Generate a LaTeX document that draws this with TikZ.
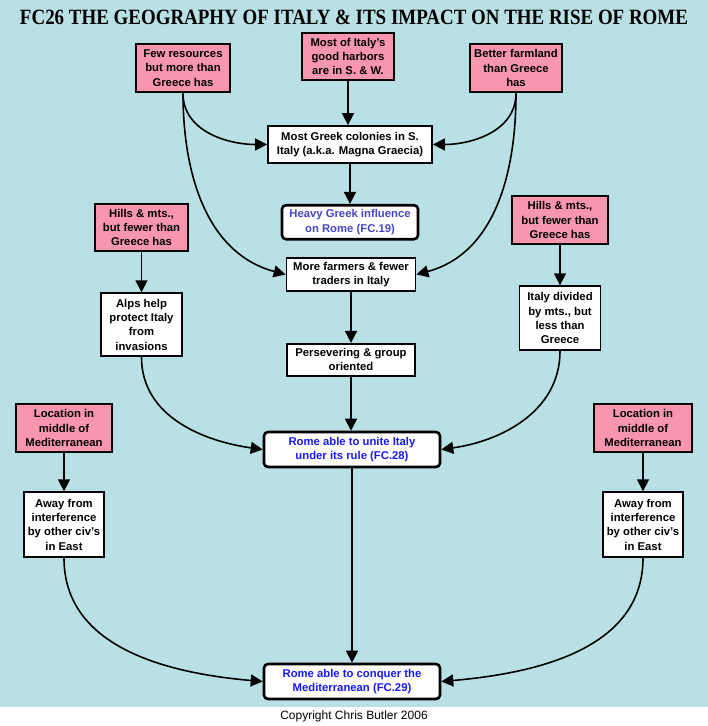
\documentclass[tikz,border=0pt]{standalone}
\usepackage{fontspec}
\setmainfont{Liberation Sans}
\newfontfamily\titlefont{Liberation Serif}
\usepackage{tikz}
\usetikzlibrary{arrows.meta, positioning}

\definecolor{seablue}{RGB}{185,224,228}
\definecolor{pinkfill}{RGB}{248,150,176}
\definecolor{linkblue}{RGB}{25,25,245}
\definecolor{linkpurple}{RGB}{70,70,200}

\tikzset{
  box/.style={draw=black, align=center, inner sep=1pt,
    font=\bfseries\fontsize{11.3}{14.3}\selectfont},
  pinkbox/.style={box, fill=pinkfill, line width=2.6pt},
  plainbox/.style={box, fill=white, line width=1.8pt},
  fcbox/.style={box, fill=white, line width=2.6pt, rounded corners=4pt},
  link/.style={draw, line width=1.6pt, -{Triangle[length=12pt,width=12pt]}},
}

\begin{document}
\begin{tikzpicture}[x=1pt, y=-1pt]
  \useasboundingbox (0,0) rectangle (708,726);
  \fill[seablue] (0,0) rectangle (708,707);

  \node (title) at (354,17)
    {\resizebox{668pt}{14.5pt}{\titlefont\bfseries FC26 THE GEOGRAPHY OF ITALY \& ITS IMPACT ON THE RISE OF ROME}};

  % top row
  \node[pinkbox, minimum width=94pt, minimum height=48pt] (few) at (183,68)
    {Few resources\\but more than\\Greece has};
  \node[pinkbox, minimum width=92pt, minimum height=47pt] (harbors) at (348,56.5)
    {Most of Italy’s\\good harbors\\are in S. \& W.};
  \node[pinkbox, minimum width=92pt, minimum height=48pt] (farmland) at (516,68)
    {Better farmland\\than Greece\\has};

  % centre column
  \node[plainbox, minimum width=164pt, minimum height=37pt] (colonies) at (350,144.5)
    {Most Greek colonies in S.\\Italy (a.k.a. Magna Graecia)};
  \node[fcbox, minimum width=136pt, minimum height=34pt, text=linkpurple,
    below=40pt of colonies] (greek) {Heavy Greek influence\\on Rome (FC.19)};
  \node[plainbox, minimum width=129pt, minimum height=33pt] (farmers) at (351,274.5)
    {More farmers \& fewer\\traders in Italy};
  \node[plainbox, minimum width=128pt, minimum height=32pt,
    below=51pt of farmers] (persevere) {Persevering \& group\\oriented};
  \node[fcbox, minimum width=176pt, minimum height=35pt, text=linkblue] (unite) at (352,449.5)
    {Rome able to unite Italy\\under its rule (FC.28)};
  \node[fcbox, minimum width=176pt, minimum height=35pt, text=linkblue] (conquer) at (352,681.5)
    {Rome able to conquer the\\Mediterranean (FC.29)};

  % mountains
  \node[pinkbox, minimum width=93pt, minimum height=47pt] (hillsL) at (141.5,227.5)
    {Hills \& mts.,\\but fewer than\\Greece has};
  \node[plainbox, minimum width=81pt, minimum height=63pt,
    below=40pt of hillsL] (alps) {Alps help\\protect Italy\\from\\invasions};
  \node[pinkbox, minimum width=96pt, minimum height=48pt] (hillsR) at (560,220)
    {Hills \& mts.,\\but fewer than\\Greece has};
  \node[plainbox, minimum width=81pt, minimum height=64pt,
    below=40pt of hillsR] (divided) {Italy divided\\by mts., but\\less than\\Greece};

  % location
  \node[pinkbox, minimum width=96pt, minimum height=48pt] (locL) at (64,428)
    {Location in\\middle of\\Mediterranean};
  \node[plainbox, minimum width=80pt, minimum height=65pt,
    below=38pt of locL] (awayL) {Away from\\interference\\by other civ’s\\in East};
  \node[pinkbox, minimum width=98pt, minimum height=48pt] (locR) at (643,428)
    {Location in\\middle of\\Mediterranean};
  \node[plainbox, minimum width=80pt, minimum height=65pt,
    below=38pt of locR] (awayR) {Away from\\interference\\by other civ’s\\in East};

  \node[font=\fontsize{12}{14}\selectfont] (copy) at (354,716) {Copyright Chris Butler 2006};

  % connectors
  \path[link] (harbors.south) -- (harbors.south |- colonies.north);
  \path[link] (few.south) to[out=-90, in=180] (colonies.west);
  \path[link] (few.south) to[out=-90, in=165] (farmers.west);
  \path[link] (farmland.south) to[out=-90, in=0] (colonies.east);
  \path[link] (farmland.south) to[out=-90, in=15] (farmers.east);
  \path[link] (colonies.south) -- (colonies.south |- greek.north);
  \path[link] (farmers.south) -- (farmers.south |- persevere.north);
  \path[link] (persevere.south) -- (persevere.south |- unite.north);
  \path[link] (hillsL) -- (alps);
  \path[link] (hillsR) -- (divided);
  \path[link] (alps.south) to[out=-90, in=172] (unite.west);
  \path[link] (divided.south) to[out=-90, in=8] (unite.east);
  \path[link] (locL) -- (awayL);
  \path[link] (locR) -- (awayR);
  \path[link] (awayL.south) to[out=-90, in=175] (conquer.west);
  \path[link] (awayR.south) to[out=-90, in=5] (conquer.east);
  \path[link] (unite) -- (conquer);
\end{tikzpicture}
\end{document}
